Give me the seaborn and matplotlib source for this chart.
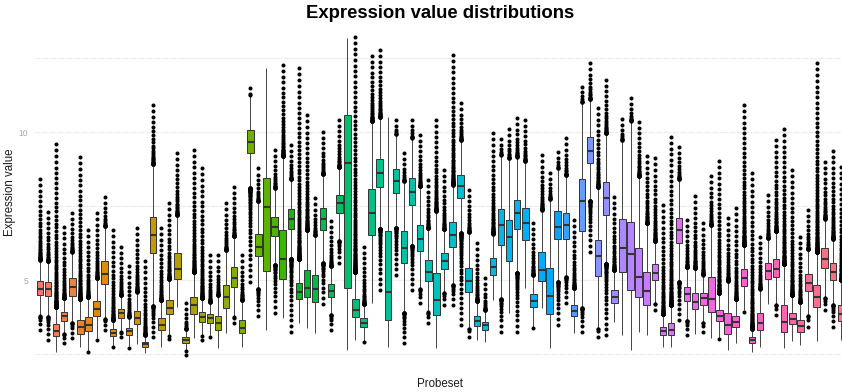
import numpy as np
import pandas as pd
import matplotlib
matplotlib.use("Agg")
import matplotlib.pyplot as plt
import seaborn as sns

# ---- data (per probeset box statistics) ----
q1s = [4.49, 4.45, 3.12, 3.63, 4.46, 3.18, 3.29, 3.79, 4.86, 3.11,
       3.71, 3.14, 3.51, 2.75, 5.92, 3.31, 3.84, 5.03, 2.88, 3.86,
       3.59, 3.56, 3.31, 4.04, 4.77, 3.20, 9.28, 5.81, 5.32, 6.49,
       5.02, 6.72, 4.35, 4.44, 4.27, 6.69, 4.44, 7.25, 4.72, 3.74,
       3.40, 6.52, 8.15, 3.65, 7.95, 5.56, 7.53, 5.99, 4.97, 3.82,
       5.36, 6.10, 7.76, 4.58, 3.46, 3.31, 5.17, 6.18, 5.64, 6.72,
       6.35, 4.08, 4.98, 3.84, 6.37, 6.39, 3.78, 6.66, 8.96, 5.15,
       7.20, 4.21, 5.28, 4.66, 4.44, 4.16, 5.00, 3.14, 3.14, 6.24,
       4.30, 4.01, 4.16, 3.91, 3.61, 3.18, 3.42, 4.81, 2.86, 3.31,
       5.02, 5.09, 3.25, 3.51, 3.25, 4.63, 4.08, 5.40, 5.00, 3.61]
medians = [4.71, 4.68, 3.28, 3.78, 4.75, 3.40, 3.48, 4.02, 5.21, 3.22,
           3.87, 3.28, 3.73, 2.83, 6.53, 3.48, 4.04, 5.37, 2.97, 4.15,
           3.76, 3.71, 3.54, 4.44, 5.06, 3.39, 9.65, 6.13, 7.46, 6.80,
           5.71, 7.07, 4.61, 4.74, 4.71, 7.06, 4.64, 7.59, 8.96, 3.99,
           3.55, 7.27, 8.63, 4.58, 8.35, 6.09, 7.98, 6.39, 5.28, 4.32,
           5.65, 6.52, 8.19, 4.98, 3.63, 3.47, 5.43, 6.86, 6.44, 7.25,
           6.91, 4.29, 5.34, 4.47, 6.80, 6.86, 3.96, 7.67, 9.37, 5.81,
           7.76, 4.44, 6.09, 5.88, 5.11, 4.64, 5.23, 3.28, 3.31, 6.69,
           4.52, 4.27, 4.38, 4.36, 3.79, 3.48, 3.59, 5.06, 2.96, 3.54,
           5.32, 5.38, 3.57, 3.70, 3.45, 4.89, 4.42, 5.71, 5.28, 3.85]
q3s = [4.97, 4.92, 3.51, 3.93, 5.06, 3.65, 3.74, 4.30, 5.64, 3.33,
       4.02, 3.39, 3.95, 2.91, 7.12, 3.71, 4.32, 5.90, 3.06, 4.42,
       3.91, 3.84, 3.78, 4.83, 5.45, 3.65, 10.07, 6.55, 8.44, 7.14,
       6.69, 7.39, 4.89, 5.34, 5.17, 7.44, 4.85, 7.87, 10.57, 4.35,
       3.71, 8.06, 9.09, 6.66, 8.74, 6.67, 8.44, 6.86, 5.68, 5.23,
       5.90, 6.95, 8.55, 5.40, 3.79, 3.58, 5.73, 7.40, 7.03, 7.70,
       7.42, 4.52, 5.94, 5.40, 7.33, 7.25, 4.16, 8.40, 9.82, 6.35,
       8.30, 4.66, 7.06, 6.95, 6.07, 5.26, 5.53, 3.42, 3.54, 7.11,
       4.75, 4.57, 4.57, 5.09, 3.99, 3.90, 3.79, 5.36, 3.06, 3.87,
       5.58, 5.71, 4.16, 3.90, 3.65, 5.19, 4.83, 6.07, 5.56, 4.16]
whisker_lo = [3.82, 3.72, 2.58, 3.31, 3.65, 2.75, 2.75, 3.14, 3.87, 3.00,
              3.59, 2.92, 2.80, 2.52, 4.10, 2.75, 3.31, 4.10, 2.80, 3.20,
              3.31, 3.31, 2.69, 3.20, 3.87, 2.75, 8.15, 4.66, 3.31, 5.50,
              3.71, 5.79, 3.48, 3.37, 3.20, 5.62, 3.87, 6.35, 2.64, 2.97,
              3.14, 4.16, 6.80, 2.75, 6.69, 3.93, 6.18, 4.77, 3.99, 2.69,
              4.55, 4.72, 6.58, 3.42, 2.97, 2.75, 4.32, 4.32, 3.87, 5.28,
              4.69, 3.54, 4.04, 2.69, 4.98, 5.11, 3.22, 4.04, 7.76, 3.42,
              5.56, 3.59, 3.14, 2.64, 3.25, 3.14, 4.32, 2.69, 2.75, 5.06,
              3.71, 2.92, 3.65, 3.03, 3.14, 2.64, 2.86, 4.10, 2.58, 2.75,
              4.10, 4.27, 2.69, 2.92, 2.80, 3.82, 2.80, 4.32, 4.21, 2.97]
whisker_hi = [5.56, 5.57, 4.10, 4.44, 5.79, 4.27, 4.32, 5.23, 6.46, 3.65,
              4.38, 3.76, 4.32, 3.14, 8.89, 4.44, 4.94, 7.14, 3.20, 5.00,
              4.32, 4.21, 4.55, 5.96, 6.35, 4.04, 11.14, 7.76, 12.17, 7.70,
              9.11, 8.32, 5.56, 6.69, 6.52, 8.55, 5.43, 8.72, 13.17, 5.17,
              4.04, 10.41, 10.46, 10.50, 9.68, 7.59, 9.68, 8.15, 6.70, 7.28,
              6.63, 8.21, 9.68, 6.58, 4.08, 3.93, 6.55, 9.17, 9.19, 9.11,
              9.03, 5.09, 7.25, 7.53, 8.21, 8.21, 4.66, 11.03, 11.03, 8.04,
              9.86, 5.28, 9.73, 10.29, 8.49, 6.80, 6.13, 3.76, 3.76, 8.44,
              5.43, 5.34, 5.17, 6.80, 4.55, 4.94, 4.30, 6.07, 3.31, 4.66,
              6.41, 6.55, 5.51, 4.66, 4.61, 5.96, 5.96, 7.03, 6.33, 4.94]
outlier_min = [3.31, 2.97, 2.58, 2.87, 3.03, 2.75, 2.58, 2.97, 3.31, 2.75,
               3.06, 2.69, 2.80, 2.52, 3.06, 2.75, 3.00, 4.10, 2.47, 3.03,
               2.97, 3.09, 2.69, 3.20, 3.54, 2.75, 4.94, 3.78, 3.31, 3.90,
               3.71, 3.25, 3.48, 3.37, 3.20, 4.19, 3.31, 5.56, 2.64, 2.97,
               2.89, 4.16, 4.66, 2.75, 5.17, 2.86, 4.66, 4.21, 3.54, 2.69,
               4.16, 4.16, 3.48, 3.09, 2.97, 2.75, 4.32, 3.25, 3.87, 3.25,
               4.69, 3.37, 4.04, 2.69, 3.48, 4.21, 3.22, 3.25, 5.96, 3.09,
               3.14, 3.59, 3.14, 2.64, 3.25, 3.14, 3.99, 2.69, 2.75, 3.65,
               3.14, 2.92, 3.25, 3.03, 3.00, 2.64, 2.86, 3.93, 2.58, 2.75,
               4.10, 3.82, 2.69, 2.92, 2.80, 3.42, 2.80, 3.99, 3.42, 2.97]
outlier_max = [8.41, 7.31, 9.58, 6.80, 7.27, 9.15, 6.69, 7.25, 7.81, 6.69,
               6.13, 5.48, 6.75, 5.65, 10.91, 6.75, 7.59, 9.28, 4.21, 9.39,
               8.77, 5.84, 5.84, 7.59, 8.15, 5.84, 11.48, 8.77, 12.17, 9.39,
               12.26, 9.56, 12.15, 10.57, 7.76, 10.01, 7.00, 10.41, 13.17, 13.22,
               6.13, 12.57, 12.76, 10.50, 10.41, 9.28, 10.41, 9.90, 8.38, 10.41,
               8.72, 12.60, 10.97, 8.04, 6.24, 5.06, 9.96, 9.75, 10.09, 10.46,
               10.41, 6.94, 9.22, 8.60, 9.34, 9.79, 7.03, 11.53, 12.32, 10.80,
               11.76, 7.81, 10.43, 11.14, 10.35, 9.19, 9.11, 7.53, 9.84, 9.50,
               7.03, 7.84, 6.92, 8.51, 9.03, 7.08, 7.42, 10.91, 8.60, 6.46,
               7.87, 9.73, 10.09, 8.72, 6.46, 7.38, 12.32, 9.00, 9.37, 8.83]
probesets = [f"P{i + 1:03d}" for i in range(len(q1s))]

title = "Expression value distributions"
ylabel = "Expression value"
xlabel = "Probeset"
yticks = [5, 10]
ytick_labels = ["5", "10"]

PX_PER_UNIT = 29.6


def strip(start, end):
    length = abs(end - start)
    n = max(1, int(round(length * PX_PER_UNIT / 2.0)))
    if n == 1:
        return [end]
    t = np.linspace(0, 1, n) ** 3
    return list(start + (end - start) * t)


def build_sample(q1, med, q3, wlo, whi, omin, omax):
    iqr = q3 - q1
    lo_lim, hi_lim = q1 - 1.5 * iqr, q3 + 1.5 * iqr
    if omax > whi and omax > hi_lim:
        w_hi = hi_lim - 1e-3
        hi_out = strip(hi_lim + 1e-3, omax)
    else:
        w_hi = min(max(whi, omax), hi_lim - 1e-3)
        hi_out = []
    if omin < wlo and omin < lo_lim:
        w_lo = lo_lim + 1e-3
        lo_out = strip(lo_lim - 1e-3, omin)
    else:
        w_lo = max(min(wlo, omin), lo_lim + 1e-3)
        lo_out = []
    P = 300
    m = abs(len(lo_out) - len(hi_out)) + 3
    vals = lo_out + [w_lo] + [q1] * P + [med] * m + [q3] * P + [w_hi] + hi_out
    return vals


rows = []
for i, name in enumerate(probesets):
    v = build_sample(q1s[i], medians[i], q3s[i], whisker_lo[i], whisker_hi[i],
                     outlier_min[i], outlier_max[i])
    rows.append(pd.DataFrame({"Probeset": name, "value": v}))
df = pd.concat(rows, ignore_index=True)


# ggplot-like hue palette (HCL, c=100, l=65)
def hcl_to_hex(h, c=100.0, l=65.0):
    hr = np.deg2rad(h)
    U, V = c * np.cos(hr), c * np.sin(hr)
    Xn, Yn, Zn = 95.047, 100.0, 108.883
    un = 4 * Xn / (Xn + 15 * Yn + 3 * Zn)
    vn = 9 * Yn / (Xn + 15 * Yn + 3 * Zn)
    Y = Yn * ((l + 16) / 116) ** 3
    u = U / (13 * l) + un
    v = V / (13 * l) + vn
    X = 9.0 * Y * u / (4 * v)
    Z = -X / 3 - 5 * Y + 3 * Y / v
    M = np.array([[3.240479, -1.537150, -0.498535],
                  [-0.969256, 1.875992, 0.041556],
                  [0.055648, -0.204043, 1.057311]])
    rgb = M @ (np.array([X, Y, Z]) / 100.0)
    rgb = np.where(rgb > 0.0031308, 1.055 * np.clip(rgb, 0, None) ** (1 / 2.4) - 0.055, 12.92 * rgb)
    rgb = np.clip(rgb, 0, 1)
    return matplotlib.colors.to_hex(rgb)


hues = np.linspace(15, 375, len(probesets) + 1)[:-1]
palette = {name: hcl_to_hex(h) for name, h in zip(probesets, hues)}

sns.set_style("white")
plt.rcParams["font.family"] = ["Liberation Sans", "DejaVu Sans"]

W, H = 842, 392
fig = plt.figure(figsize=(W / 100, H / 100), dpi=100, facecolor="white")
ymin, ymax = 1.93, 13.76
ax_top_px, ax_bot_px = 20.7, 370.9
ax_left_px, ax_w_px = 35.1, 810.6
ax = fig.add_axes([ax_left_px / W, (H - ax_bot_px) / H, ax_w_px / W, (ax_bot_px - ax_top_px) / H])

sns.boxplot(data=df, x="Probeset", y="value", hue="Probeset", order=probesets,
            hue_order=probesets, palette=palette, legend=False, saturation=1,
            width=0.8, linewidth=0.7, linecolor="#333333", showcaps=False,
            medianprops={"linewidth": 1.5, "color": "#333333"},
            whiskerprops={"color": "#444444", "linewidth": 0.7},
            flierprops={"marker": "o", "markerfacecolor": "black",
                        "markeredgecolor": "black", "markersize": 2.9,
                        "markeredgewidth": 0},
            ax=ax)

ax.set_xlim(-0.6, len(probesets) - 0.4)
ax.set_ylim(ymin, ymax)

for g in [2.5, 5, 7.5, 10, 12.5]:
    ax.axhline(g, color="#eeeeee", linewidth=0.9, zorder=0.3)
for i in range(len(probesets)):
    ax.axvline(i, color="white", linewidth=0.8, zorder=0.4)

ax.set_xticks([])
ax.set_yticks(yticks)
ax.set_yticklabels(ytick_labels, color="#a8a8a8", fontsize=6.2)
ax.tick_params(axis="y", length=0, pad=5)
ax.set_xlabel("")
ax.set_ylabel("")
for s in ax.spines.values():
    s.set_visible(False)

fig.text(440.4 / W, 1 - 13 / H, title, ha="center", va="center",
         fontsize=13.3, fontweight="bold", color="black")
fig.text(10 / W, 1 - 192 / H, ylabel, rotation=90, ha="center", va="center",
         fontsize=8.3, color="#1a1a1a")
fig.text(440.4 / W, 1 - 384 / H, xlabel, ha="center", va="center",
         fontsize=8.3, color="#1a1a1a")

fig.savefig("out.png", dpi=100, facecolor="white")
